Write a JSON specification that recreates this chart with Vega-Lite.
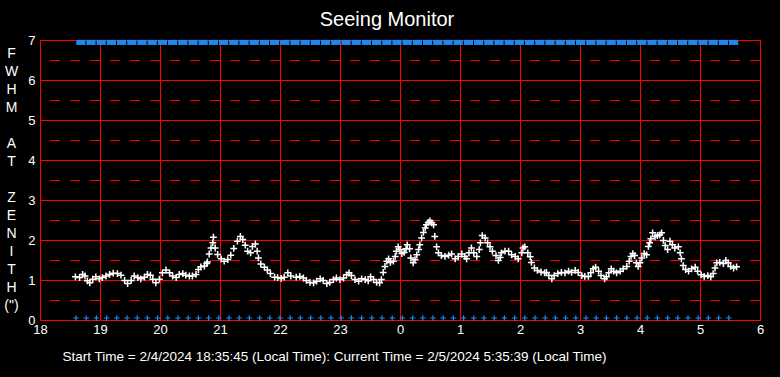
{
  "$schema": "https://vega.github.io/schema/vega-lite/v6.json",
  "width": 720,
  "height": 280,
  "autosize": "none",
  "padding": {"left": 40, "top": 40, "right": 20, "bottom": 57},
  "background": "#000000",
  "title": {"text": "Seeing Monitor", "color": "#ffffff", "font": "Liberation Sans", "fontSize": 20, "fontWeight": "normal", "anchor": "middle", "frame": "group", "baseline": "alphabetic", "offset": 11, "dx": -13, "dy": 23},
  "config": {
    "view": {"stroke": "#ff0000", "strokeWidth": 1, "fill": "#000000"},
    "style": {"guide-title": {"lineHeight": 18}},
    "axis": {"labelOverlap": false, "labelSeparation": 0, "labelBound": false}
  },
  "datasets": {
    "half": [{"v": 0.5}, {"v": 1.5}, {"v": 2.5}, {"v": 3.5}, {"v": 4.5}, {"v": 5.5}, {"v": 6.5}],
    "seeing": [
      {"t":18.59,"v":1.08},{"t":18.66,"v":1.06},{"t":18.71,"v":1.14},{"t":18.75,"v":1.10},{"t":18.79,"v":0.98},{"t":18.83,"v":0.93},{"t":18.88,"v":1.02},{"t":18.93,"v":1.08},{"t":18.99,"v":1.03},{"t":19.04,"v":1.06},{"t":19.10,"v":1.10},{"t":19.16,"v":1.14},{"t":19.22,"v":1.17},{"t":19.29,"v":1.16},{"t":19.35,"v":1.12},{"t":19.41,"v":0.99},{"t":19.46,"v":0.91},{"t":19.52,"v":0.99},{"t":19.57,"v":1.10},{"t":19.63,"v":1.06},{"t":19.68,"v":1.03},{"t":19.74,"v":1.07},{"t":19.79,"v":1.14},{"t":19.84,"v":1.12},{"t":19.88,"v":1.02},{"t":19.93,"v":0.93},{"t":19.99,"v":1.02},{"t":20.04,"v":1.18},{"t":20.10,"v":1.25},{"t":20.16,"v":1.18},{"t":20.21,"v":1.10},{"t":20.27,"v":1.06},{"t":20.32,"v":1.14},{"t":20.38,"v":1.16},{"t":20.43,"v":1.12},{"t":20.49,"v":1.10},{"t":20.54,"v":1.10},{"t":20.60,"v":1.14},{"t":20.64,"v":1.26},{"t":20.68,"v":1.33},{"t":20.74,"v":1.35},{"t":20.78,"v":1.41},{"t":20.79,"v":1.45},{"t":20.82,"v":1.65},{"t":20.85,"v":1.80},{"t":20.88,"v":1.93},{"t":20.89,"v":2.07},{"t":20.92,"v":1.80},{"t":20.96,"v":1.64},{"t":21.02,"v":1.53},{"t":21.07,"v":1.47},{"t":21.13,"v":1.51},{"t":21.18,"v":1.62},{"t":21.23,"v":1.79},{"t":21.29,"v":1.97},{"t":21.34,"v":2.09},{"t":21.38,"v":2.01},{"t":21.42,"v":1.87},{"t":21.46,"v":1.72},{"t":21.51,"v":1.68},{"t":21.54,"v":1.84},{"t":21.59,"v":1.90},{"t":21.62,"v":1.72},{"t":21.64,"v":1.55},{"t":21.68,"v":1.40},{"t":21.74,"v":1.32},{"t":21.79,"v":1.25},{"t":21.84,"v":1.16},{"t":21.91,"v":1.07},{"t":21.96,"v":1.06},{"t":22.02,"v":1.04},{"t":22.07,"v":1.07},{"t":22.13,"v":1.18},{"t":22.18,"v":1.10},{"t":22.27,"v":1.07},
      {"t":22.33,"v":1.09},{"t":22.39,"v":1.05},{"t":22.44,"v":0.99},{"t":22.50,"v":0.94},{"t":22.56,"v":0.93},{"t":22.61,"v":0.97},{"t":22.67,"v":1.03},{"t":22.72,"v":0.99},{"t":22.78,"v":0.91},{"t":22.83,"v":0.94},{"t":22.89,"v":1.01},{"t":22.94,"v":1.05},{"t":23.00,"v":1.01},{"t":23.06,"v":1.05},{"t":23.11,"v":1.13},{"t":23.15,"v":1.18},{"t":23.19,"v":1.11},{"t":23.25,"v":1.01},{"t":23.31,"v":0.97},{"t":23.36,"v":1.03},{"t":23.42,"v":1.01},{"t":23.47,"v":0.98},{"t":23.51,"v":1.08},{"t":23.56,"v":1.01},{"t":23.61,"v":0.94},{"t":23.66,"v":0.93},{"t":23.69,"v":1.01},{"t":23.72,"v":1.19},{"t":23.75,"v":1.34},{"t":23.78,"v":1.47},{"t":23.81,"v":1.53},{"t":23.84,"v":1.44},{"t":23.89,"v":1.47},{"t":23.92,"v":1.59},{"t":23.94,"v":1.72},{"t":23.97,"v":1.83},{"t":24.00,"v":1.76},{"t":24.03,"v":1.66},{"t":24.07,"v":1.69},{"t":24.10,"v":1.78},{"t":24.12,"v":1.88},{"t":24.16,"v":1.78},{"t":24.18,"v":1.55},{"t":24.22,"v":1.43},{"t":24.25,"v":1.51},{"t":24.28,"v":1.63},{"t":24.31,"v":1.76},{"t":24.33,"v":1.88},{"t":24.36,"v":2.05},{"t":24.39,"v":2.19},{"t":24.42,"v":2.30},{"t":24.44,"v":2.38},{"t":24.47,"v":2.44},{"t":24.50,"v":2.48},{"t":24.53,"v":2.43},{"t":24.56,"v":2.38},{"t":24.58,"v":2.09},{"t":24.61,"v":1.83},{"t":24.64,"v":1.68},{"t":24.69,"v":1.61},{"t":24.75,"v":1.59},{"t":24.81,"v":1.62},{"t":24.86,"v":1.65},{"t":24.92,"v":1.53},{"t":24.97,"v":1.59},{"t":25.03,"v":1.65},{"t":25.08,"v":1.59},{"t":25.11,"v":1.53},{"t":25.15,"v":1.68},{"t":25.19,"v":1.80},{"t":25.23,"v":1.68},{"t":25.28,"v":1.59},{"t":25.32,"v":1.76},{"t":25.34,"v":1.93},{"t":25.37,"v":2.11},{"t":25.42,"v":2.05},{"t":25.46,"v":1.93},{"t":25.50,"v":1.83},{"t":25.54,"v":1.72},{"t":25.60,"v":1.61},{"t":25.64,"v":1.49},{"t":25.67,"v":1.56},{"t":25.69,"v":1.68},{"t":25.75,"v":1.72},{"t":25.81,"v":1.72},{"t":25.86,"v":1.63},{"t":25.92,"v":1.59},{"t":25.97,"v":1.53},{"t":26.03,"v":1.68},{"t":26.05,"v":1.80},
      {"t":26.08,"v":1.83},{"t":26.13,"v":1.68},{"t":26.17,"v":1.58},{"t":26.19,"v":1.44},{"t":26.24,"v":1.30},{"t":26.29,"v":1.24},{"t":26.35,"v":1.20},{"t":26.41,"v":1.18},{"t":26.44,"v":1.19},{"t":26.48,"v":1.11},{"t":26.53,"v":1.03},{"t":26.57,"v":1.11},{"t":26.63,"v":1.16},{"t":26.69,"v":1.19},{"t":26.75,"v":1.18},{"t":26.81,"v":1.22},{"t":26.86,"v":1.19},{"t":26.92,"v":1.24},{"t":26.97,"v":1.19},{"t":27.03,"v":1.11},{"t":27.08,"v":1.09},{"t":27.14,"v":1.09},{"t":27.18,"v":1.18},{"t":27.22,"v":1.28},{"t":27.26,"v":1.32},{"t":27.31,"v":1.22},{"t":27.35,"v":1.11},{"t":27.41,"v":1.03},{"t":27.44,"v":1.08},{"t":27.48,"v":1.18},{"t":27.52,"v":1.28},{"t":27.56,"v":1.22},{"t":27.61,"v":1.18},{"t":27.67,"v":1.22},{"t":27.72,"v":1.28},{"t":27.78,"v":1.34},{"t":27.82,"v":1.47},{"t":27.85,"v":1.59},{"t":27.88,"v":1.66},{"t":27.91,"v":1.61},{"t":27.94,"v":1.43},{"t":27.97,"v":1.34},{"t":28.00,"v":1.43},{"t":28.03,"v":1.55},{"t":28.07,"v":1.66},{"t":28.11,"v":1.63},{"t":28.14,"v":1.84},{"t":28.16,"v":1.93},{"t":28.18,"v":2.03},{"t":28.21,"v":2.18},{"t":28.25,"v":2.08},{"t":28.29,"v":2.11},{"t":28.33,"v":2.13},{"t":28.36,"v":2.18},{"t":28.39,"v":1.99},{"t":28.42,"v":1.86},{"t":28.46,"v":1.76},{"t":28.50,"v":1.97},{"t":28.54,"v":1.88},{"t":28.58,"v":1.80},{"t":28.64,"v":1.83},{"t":28.67,"v":1.68},{"t":28.69,"v":1.53},{"t":28.72,"v":1.36},{"t":28.76,"v":1.26},{"t":28.81,"v":1.22},{"t":28.86,"v":1.28},{"t":28.92,"v":1.32},{"t":28.96,"v":1.22},{"t":29.02,"v":1.13},{"t":29.07,"v":1.09},{"t":29.13,"v":1.11},{"t":29.18,"v":1.08},{"t":29.22,"v":1.16},{"t":29.25,"v":1.30},{"t":29.28,"v":1.43},{"t":29.33,"v":1.44},{"t":29.39,"v":1.41},{"t":29.43,"v":1.49},{"t":29.47,"v":1.43},{"t":29.51,"v":1.34},{"t":29.56,"v":1.30},{"t":29.61,"v":1.33}
    ],
    "bottom": [
      {"t":18.60,"v":0.05},{"t":18.77,"v":0.05},{"t":18.94,"v":0.05},{"t":19.11,"v":0.05},{"t":19.28,"v":0.05},{"t":19.45,"v":0.05},{"t":19.62,"v":0.05},{"t":19.79,"v":0.05},{"t":19.96,"v":0.05},{"t":20.13,"v":0.05},{"t":20.30,"v":0.05},{"t":20.47,"v":0.05},{"t":20.64,"v":0.05},{"t":20.81,"v":0.05},{"t":20.98,"v":0.05},{"t":21.15,"v":0.05},{"t":21.32,"v":0.05},{"t":21.49,"v":0.05},{"t":21.66,"v":0.05},{"t":21.83,"v":0.05},{"t":22.00,"v":0.05},{"t":22.17,"v":0.05},{"t":22.34,"v":0.05},{"t":22.51,"v":0.05},{"t":22.68,"v":0.05},{"t":22.85,"v":0.05},{"t":23.02,"v":0.05},{"t":23.19,"v":0.05},{"t":23.36,"v":0.05},{"t":23.53,"v":0.05},{"t":23.70,"v":0.05},{"t":23.87,"v":0.05},{"t":24.04,"v":0.05},{"t":24.21,"v":0.05},{"t":24.38,"v":0.05},{"t":24.55,"v":0.05},{"t":24.72,"v":0.05},{"t":24.89,"v":0.05},{"t":25.06,"v":0.05},{"t":25.23,"v":0.05},{"t":25.40,"v":0.05},{"t":25.57,"v":0.05},{"t":25.74,"v":0.05},{"t":25.91,"v":0.05},{"t":26.08,"v":0.05},{"t":26.25,"v":0.05},{"t":26.42,"v":0.05},{"t":26.59,"v":0.05},{"t":26.76,"v":0.05},{"t":26.93,"v":0.05},{"t":27.10,"v":0.05},{"t":27.27,"v":0.05},{"t":27.44,"v":0.05},{"t":27.61,"v":0.05},{"t":27.78,"v":0.05},{"t":27.95,"v":0.05},{"t":28.12,"v":0.05},{"t":28.29,"v":0.05},{"t":28.46,"v":0.05},{"t":28.63,"v":0.05},{"t":28.80,"v":0.05},{"t":28.97,"v":0.05},{"t":29.14,"v":0.05},{"t":29.31,"v":0.05},{"t":29.48,"v":0.05}
    ],
    "top": [
      {"t":18.68,"v":6.94},{"t":18.85,"v":6.94},{"t":19.02,"v":6.94},{"t":19.19,"v":6.94},{"t":19.36,"v":6.94},{"t":19.53,"v":6.94},{"t":19.70,"v":6.94},{"t":19.87,"v":6.94},{"t":20.04,"v":6.94},{"t":20.21,"v":6.94},{"t":20.38,"v":6.94},{"t":20.55,"v":6.94},{"t":20.72,"v":6.94},{"t":20.89,"v":6.94},{"t":21.06,"v":6.94},{"t":21.23,"v":6.94},{"t":21.40,"v":6.94},{"t":21.57,"v":6.94},{"t":21.74,"v":6.94},{"t":21.91,"v":6.94},{"t":22.08,"v":6.94},{"t":22.25,"v":6.94},{"t":22.42,"v":6.94},{"t":22.59,"v":6.94},{"t":22.76,"v":6.94},{"t":22.93,"v":6.94},{"t":23.10,"v":6.94},{"t":23.27,"v":6.94},{"t":23.44,"v":6.94},{"t":23.61,"v":6.94},{"t":23.78,"v":6.94},{"t":23.95,"v":6.94},{"t":24.12,"v":6.94},{"t":24.29,"v":6.94},{"t":24.46,"v":6.94},{"t":24.63,"v":6.94},{"t":24.80,"v":6.94},{"t":24.97,"v":6.94},{"t":25.14,"v":6.94},{"t":25.31,"v":6.94},{"t":25.48,"v":6.94},{"t":25.65,"v":6.94},{"t":25.82,"v":6.94},{"t":25.99,"v":6.94},{"t":26.16,"v":6.94},{"t":26.33,"v":6.94},{"t":26.50,"v":6.94},{"t":26.67,"v":6.94},{"t":26.84,"v":6.94},{"t":27.01,"v":6.94},{"t":27.18,"v":6.94},{"t":27.35,"v":6.94},{"t":27.52,"v":6.94},{"t":27.69,"v":6.94},{"t":27.86,"v":6.94},{"t":28.03,"v":6.94},{"t":28.20,"v":6.94},{"t":28.37,"v":6.94},{"t":28.54,"v":6.94},{"t":28.71,"v":6.94},{"t":28.88,"v":6.94},{"t":29.05,"v":6.94},{"t":29.22,"v":6.94},{"t":29.39,"v":6.94},{"t":29.56,"v":6.94}
    ]
  },
  "layer": [
    {
      "data": {"name": "half"},
      "mark": {"type": "rule", "color": "#ff0000", "strokeWidth": 1, "strokeDash": [10, 10], "yOffset": 0.5},
      "encoding": {
        "y": {"field": "v", "type": "quantitative", "scale": {"domain": [0, 7], "nice": false, "zero": false}}
      }
    },
    {
      "data": {"name": "seeing"},
      "mark": {"type": "point", "shape": "M-1,0H1M0,-1V1", "filled": false, "stroke": "#ffffff", "strokeWidth": 1.5, "size": 46, "opacity": 1},
      "encoding": {
        "x": {"field": "t", "type": "quantitative", "scale": {"domain": [18, 30], "nice": false, "zero": false},
          "axis": {"values": [18, 19, 20, 21, 22, 23, 24, 25, 26, 27, 28, 29, 30], "tickCount": 20, "labelExpr": "datum.value >= 24 ? datum.value - 24 : datum.value",
            "grid": true, "gridColor": "#ff0000", "gridWidth": 1, "gridOpacity": 1, "domain": false, "ticks": false, "labelFlush": false, "labelOverlap": false,
            "labelColor": "#ffffff", "labelFont": "Liberation Sans", "labelFontSize": 13, "labelPadding": 3,
            "title": "Start Time = 2/4/2024 18:35:45 (Local Time): Current Time = 2/5/2024 5:35:39 (Local Time)",
            "titleColor": "#ffffff", "titleFont": "Liberation Sans", "titleFontSize": 13.5, "titleFontWeight": "normal",
            "titleAnchor": "start", "titleAlign": "left", "titleX": 22, "titleY": 40, "titleBaseline": "alphabetic"}},
        "y": {"field": "v", "type": "quantitative",
          "axis": {"values": [0, 1, 2, 3, 4, 5, 6, 7], "tickCount": 10, "format": "d", "grid": true, "gridColor": "#ff0000", "gridWidth": 1, "gridOpacity": 1, "domain": false, "ticks": false, "labelOverlap": false, "labelFlush": false,
            "labelColor": "#ffffff", "labelFont": "Liberation Sans", "labelFontSize": 13, "labelPadding": 5,
            "title": ["F", "W", "H", "M", "\u200b", "A", "T", "\u200b", "Z", "E", "N", "I", "T", "H", "(\")"],
            "titleAngle": 0, "titleAlign": "center", "titleBaseline": "middle", "titleX": -29, "titleY": 13,
            "titleColor": "#ffffff", "titleFont": "Liberation Sans", "titleFontSize": 14, "titleFontWeight": "normal", "titleLineHeight": 18}}
      }
    },
    {
      "data": {"name": "bottom"},
      "mark": {"type": "point", "shape": "M-1,0H1M0,-1V1", "filled": false, "stroke": "#1e88f0", "strokeWidth": 1.2, "size": 30, "opacity": 1},
      "encoding": {
        "x": {"field": "t", "type": "quantitative"},
        "y": {"field": "v", "type": "quantitative"}
      }
    },
    {
      "data": {"name": "top"},
      "mark": {"type": "point", "shape": "M-1,-0.55H1V0.55H-1Z", "filled": true, "fill": "#1e88f0", "strokeWidth": 0, "size": 85, "opacity": 1},
      "encoding": {
        "x": {"field": "t", "type": "quantitative"},
        "y": {"field": "v", "type": "quantitative"}
      }
    }
  ]
}
